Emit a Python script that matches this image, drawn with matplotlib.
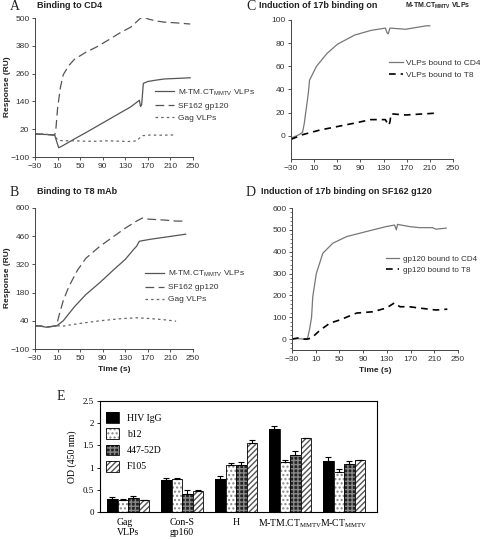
import numpy as np
import matplotlib.pyplot as plt
from matplotlib.ticker import AutoMinorLocator

plt.rcParams['font.family'] = ['Liberation Sans', 'DejaVu Sans']
plt.rcParams['mathtext.fontset'] = 'custom'
plt.rcParams['mathtext.rm'] = 'Liberation Sans'

W, H = 480, 539

# ---- panel A: binding to CD4 ----
a_tm_t = [-30, -20, -10, 0, 5, 8, 12, 20, 40, 60, 80, 100, 120, 140, 155, 157, 159, 162, 170, 185, 200, 220, 245]
a_tm_v = [0, -2, -3, -4, -6, -30, -60, -50, -22, 5, 33, 61, 89, 117, 145, 118, 125, 218, 226, 232, 237, 239, 242]
a_sf_t = [-30, -10, 0, 5, 7, 10, 15, 20, 30, 40, 60, 80, 100, 120, 140, 155, 162, 170, 185, 200, 220, 245]
a_sf_v = [0, -3, -5, -5, 20, 110, 200, 255, 295, 322, 352, 376, 405, 435, 461, 495, 508, 496, 487, 482, 479, 474]
a_gag_t = [-30, -10, 0, 5, 8, 12, 20, 40, 60, 80, 100, 120, 140, 150, 160, 175, 190, 215]
a_gag_v = [0, -2, -5, -5, -20, -28, -30, -30, -32, -32, -30, -32, -33, -30, -8, -5, -6, -5]

# ---- panel B: binding to T8 mAb ----
b_tm_t = [-30, -20, -10, 0, 8, 10, 20, 40, 60, 85, 110, 130, 145, 150, 155, 175, 200, 237]
b_tm_v = [15, 14, 8, 12, 15, 18, 40, 110, 170, 230, 295, 345, 395, 410, 435, 445, 455, 470]
b_sf_t = [-30, -20, -10, 0, 8, 12, 20, 30, 45, 60, 85, 110, 130, 150, 160, 170, 200, 220, 237]
b_sf_v = [15, 14, 8, 12, 15, 60, 140, 210, 290, 350, 410, 460, 500, 535, 550, 545, 540, 535, 535]
b_gag_t = [-30, -20, -10, 0, 10, 20, 50, 85, 120, 150, 170, 200, 220]
b_gag_v = [15, 14, 8, 12, 15, 14, 27, 40, 50, 55, 52, 45, 38]

# ---- panel C: 17b on M-TM.CT VLPs ----
c_cd4_t = [-30, -16, -10, -7, -4, 0, 2, 14, 32, 50, 80, 108, 133, 136, 138, 141, 168, 204, 210]
c_cd4_v = [-2, 1, 3, 11, 22, 37, 48, 60, 71, 79, 87, 91, 93, 89, 88, 93, 92, 95, 95]
c_t8_t = [-30, -10, 20, 50, 80, 108, 133, 139, 141, 143, 168, 218]
c_t8_v = [-3, 1, 5, 8, 11, 14, 14, 9, 12, 19, 18, 19.5]

# ---- panel D: 17b on SF162 gp120 ----
d_cd4_t = [-30, -20, -10, -4, 0, 3, 5, 11, 22, 39, 62, 95, 129, 143, 146, 148, 168, 185, 207, 213, 230]
d_cd4_v = [0, 2, 0, 0, 50, 100, 193, 300, 393, 439, 469, 492, 515, 522, 500, 525, 515, 510, 510, 503, 508]
d_t8_t = [-30, -20, -10, -4, 3, 17, 34, 50, 79, 106, 129, 143, 152, 168, 185, 213, 232]
d_t8_v = [0, 5, 0, 0, 5, 40, 73, 87, 119, 125, 142, 166, 148, 148, 142, 133, 137]

# ---- panel E: ELISA ----
e_groups = ['Gag\nVLPs', 'Con-S\ngp160', 'H', r'M-TM.CT$_{\mathregular{MMTV}}$', r'M-CT$_{\mathregular{MMTV}}$']
e_series = ['HIV IgG', 'b12', '447-52D', 'F105']
e_vals = [[0.29, 0.73, 0.75, 1.86, 1.14],
          [0.27, 0.75, 1.05, 1.13, 0.90],
          [0.32, 0.41, 1.05, 1.29, 1.07],
          [0.26, 0.48, 1.55, 1.66, 1.16]]
e_errs = [[0.05, 0.04, 0.06, 0.08, 0.11],
          [0.02, 0.01, 0.05, 0.05, 0.07],
          [0.03, 0.09, 0.07, 0.09, 0.08],
          [0.01, 0.02, 0.07, 0.01, 0.01]]


def frac(left, right, top, bottom):
    return [left / W, 1 - bottom / H, (right - left) / W, (bottom - top) / H]


fig = plt.figure(figsize=(4.8, 5.39), dpi=100)

tick_kw = dict(labelsize=6, length=2.5, width=0.6, pad=1.5, colors='#333333')


def style(ax, xlim, ylim, yticks):
    ax.set_xlim(*xlim)
    ax.set_ylim(*ylim)
    ax.set_xticks([-30, 10, 50, 90, 130, 170, 210, 250])
    ax.set_yticks(yticks)
    for s in ['top', 'right']:
        ax.spines[s].set_visible(False)
    for s in ['left', 'bottom']:
        ax.spines[s].set_linewidth(0.7)
        ax.spines[s].set_color('#444444')
    ax.tick_params(**tick_kw)


leg_kw = dict(bbox_transform=fig.transFigure, frameon=False, handletextpad=0.4, labelspacing=0.5,
              borderpad=0, borderaxespad=0, labelcolor='#333333', loc='upper left')

# A
axA = fig.add_axes(frac(35, 193, 18, 157))
axA.plot(a_tm_t, a_tm_v, color='#555555', lw=0.9, label=r'M-TM.CT$_{\mathregular{MMTV}}$ VLPs')
axA.plot(a_sf_t, a_sf_v, color='#555555', lw=0.9, dashes=(7, 3.5), label='SF162 gp120')
axA.plot(a_gag_t, a_gag_v, color='#666666', lw=0.9, dashes=(2, 2.5), label='Gag VLPs')
style(axA, (-30, 250), (-100, 500), [-100, 20, 140, 260, 380, 500])
axA.legend(bbox_to_anchor=(155 / W, 1 - 87 / H), fontsize=6, handlelength=2.3, **leg_kw)

# B
axB = fig.add_axes(frac(35, 193, 208, 349))
axB.plot(b_tm_t, b_tm_v, color='#555555', lw=0.9, label=r'M-TM.CT$_{\mathregular{MMTV}}$ VLPs')
axB.plot(b_sf_t, b_sf_v, color='#555555', lw=0.9, dashes=(7, 3.5), label='SF162 gp120')
axB.plot(b_gag_t, b_gag_v, color='#666666', lw=0.9, dashes=(2, 2.5), label='Gag VLPs')
style(axB, (-30, 250), (-100, 600), [-100, 40, 180, 320, 460, 600])
axB.set_xlabel('Time (s)', fontsize=6, fontweight='bold', labelpad=3, color='#222222')
axB.legend(bbox_to_anchor=(145 / W, 1 - 269 / H), fontsize=6, handlelength=2.3, **leg_kw)

# C
axC = fig.add_axes(frac(291, 453, 20, 159))
axC.plot(c_cd4_t, c_cd4_v, color='#777777', lw=0.9, label='VLPs bound to CD4')
axC.plot(c_t8_t, c_t8_v, color='black', lw=1.2, dashes=(4, 3), label='VLPs bound to T8')
style(axC, (-30, 250), (-20, 100), [0, 20, 40, 60, 80, 100])
axC.legend(bbox_to_anchor=(389 / W, 1 - 59 / H), fontsize=6, handlelength=1.65, **leg_kw)

# D
axD = fig.add_axes(frac(292, 458, 208, 350))
axD.plot(d_cd4_t, d_cd4_v, color='#777777', lw=0.9, label='gp120 bound to CD4')
axD.plot(d_t8_t, d_t8_v, color='black', lw=1.2, dashes=(4, 3), label='gp120 bound to T8')
style(axD, (-30, 250), (-50, 600), [0, 100, 200, 300, 400, 500, 600])
axD.yaxis.set_minor_locator(AutoMinorLocator(5))
axD.tick_params(axis='y', which='minor', length=1.5, width=0.5, colors='#444444')
axD.set_xlabel('Time (s)', fontsize=6, fontweight='bold', labelpad=3, color='#222222')
axD.legend(bbox_to_anchor=(386 / W, 1 - 255 / H), fontsize=5.8, handlelength=1.65, **leg_kw)

# panel letters and titles
serif = ['Liberation Serif', 'DejaVu Serif']
for letter, x, y in [('A', 10, 7), ('B', 10, 192), ('C', 246, 7), ('D', 246, 192)]:
    fig.text(x / W, 1 - y / H, letter, family=serif, fontsize=10, va='center', color='#222222')
title_kw = dict(fontsize=6.5, fontweight='bold', va='center', color='#222222')
fig.text(37 / W, 1 - 6 / H, 'Binding to CD4', **title_kw)
fig.text(37 / W, 1 - 191 / H, 'Binding to T8 mAb', **title_kw)
fig.text(259 / W, 1 - 6 / H, 'Induction of 17b binding on', **title_kw)
fig.text(405 / W, 1 - 6 / H, r'M-TM.CT$_{\mathregular{MMTV}}$ VLPs', fontsize=5, fontweight='bold',
         va='center', color='#222222')
fig.text(261 / W, 1 - 191 / H, 'Induction of 17b binding on SF162 g120', **title_kw)
for yc in [87, 278]:
    fig.text(8 / W, 1 - yc / H, 'Response (RU)', rotation=90, fontsize=6, fontweight='bold',
             va='center', ha='center', color='#222222')

# E
axE = fig.add_axes(frac(100, 377, 401, 512))
x = np.arange(len(e_groups))
bw = 0.195
styles = [dict(face='black', hatch=None, hcol='black'),
          dict(face='white', hatch='....', hcol='#888888'),
          dict(face='#222222', hatch='++++', hcol='#888888'),
          dict(face='white', hatch='//////', hcol='#555555')]
handles = []
for i, (name, st) in enumerate(zip(e_series, styles)):
    pos = x + (i - 1.5) * bw
    axE.bar(pos, e_vals[i], bw, color=st['face'], hatch=st['hatch'], edgecolor=st['hcol'], lw=0)
    axE.bar(pos, e_vals[i], bw, fill=False, edgecolor='black', lw=0.6)
    axE.errorbar(pos, e_vals[i], yerr=[np.zeros(len(x)), e_errs[i]], fmt='none',
                 ecolor='black', elinewidth=0.8, capsize=2, capthick=0.8)
    hp = plt.Rectangle((0, 0), 1, 1, facecolor=st['face'], hatch=st['hatch'], edgecolor=st['hcol'], lw=0)
    ho = plt.Rectangle((0, 0), 1, 1, fill=False, edgecolor='black', lw=0.6)
    handles.append((hp, ho))
axE.set_xlim(-0.52, 4.61)
axE.set_ylim(0, 2.5)
axE.set_yticks([0, 0.5, 1, 1.5, 2, 2.5])
axE.set_yticklabels(['0', '0.5', '1', '1.5', '2', '2.5'], family=serif)
axE.set_xticks(x)
axE.set_xticklabels(e_groups, family=serif, fontsize=7, va='top', multialignment='left')
axE.tick_params(axis='x', length=0, pad=4)
axE.tick_params(axis='y', labelsize=6.5, length=2.5, width=0.6, pad=2)
for s in axE.spines.values():
    s.set_linewidth(0.8)
axE.set_ylabel('OD (450 nm)', family=serif, fontsize=7, labelpad=4)
axE.legend(handles, e_series, loc='upper left', bbox_to_anchor=(106 / W, 1 - 412 / H),
           bbox_transform=fig.transFigure, frameon=False, prop={'family': serif, 'size': 7},
           handlelength=1.35, handleheight=1.35, handletextpad=0.8, labelspacing=0.55,
           borderpad=0, borderaxespad=0)
fig.text(57 / W, 1 - 397 / H, 'E', family=serif, fontsize=10, va='center', color='#222222')

fig.savefig('out.png', dpi=100)
